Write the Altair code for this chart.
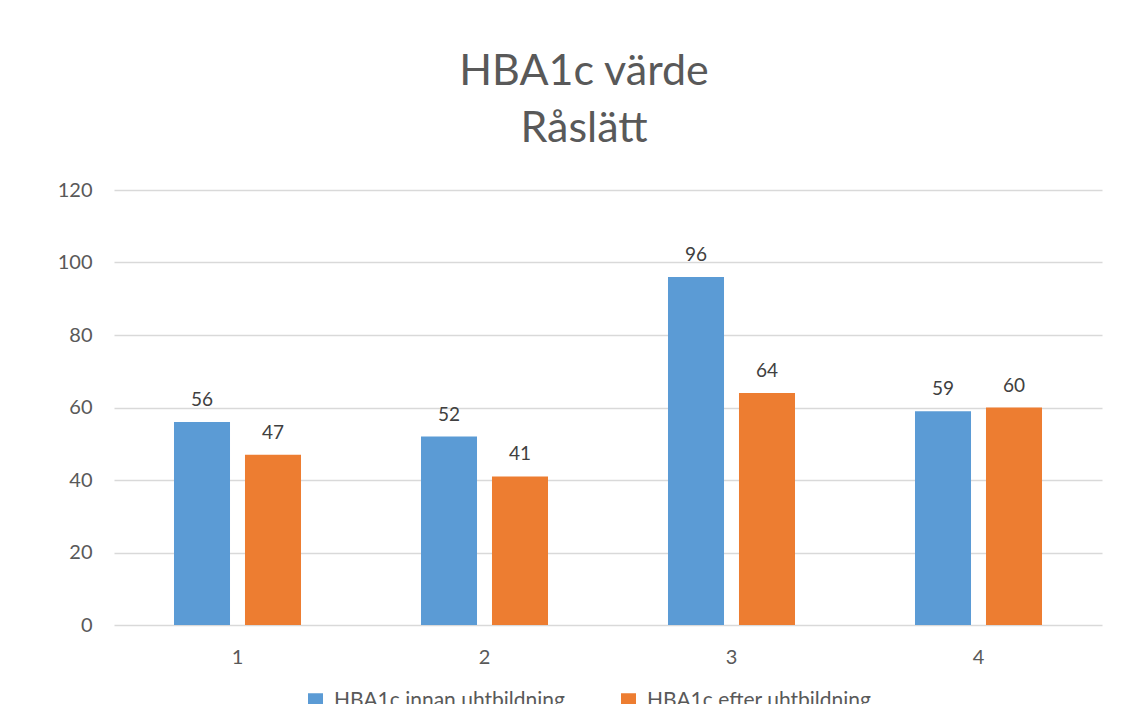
import altair as alt
import pandas as pd

categories = ["1", "2", "3", "4"]
series = ["HBA1c innan uhtbildning", "HBA1c efter uhtbildning"]
before = [56, 52, 96, 59]
after = [47, 41, 64, 60]

rows = []
for c, b, a in zip(categories, before, after):
    rows.append({"cat": c, "series": series[0], "value": b})
    rows.append({"cat": c, "series": series[1], "value": a})
df = pd.DataFrame(rows)

FONT = "Lato"

x = alt.X("cat:N", sort=categories, title=None,
          scale=alt.Scale(paddingInner=0, paddingOuter=0),
          axis=alt.Axis(labelAngle=0, labelFontSize=20, labelColor="#595959",
                        labelFont=FONT, ticks=False, domain=False, labelPadding=22))
xo = alt.XOffset("series:N", sort=series,
                 scale=alt.Scale(paddingInner=0.211, paddingOuter=0.845))
y = alt.Y("value:Q", title=None,
          scale=alt.Scale(domain=[0, 120]),
          axis=alt.Axis(values=[0, 20, 40, 60, 80, 100, 120], labelFontSize=20,
                        labelColor="#595959", labelFont=FONT, ticks=False,
                        domain=False, labelPadding=22, gridColor="#d9d9d9",
                        gridWidth=1.3))
color = alt.Color("series:N", sort=series,
                  scale=alt.Scale(domain=series, range=["#5B9BD5", "#ED7D31"]),
                  legend=alt.Legend(title=None, orient="none", legendX=191, legendY=500,
                                    direction="horizontal", symbolType="square",
                                    symbolSize=225, symbolStrokeWidth=0,
                                    labelFontSize=21, labelFont=FONT, labelLimit=0,
                                    labelColor="#595959", columnPadding=53,
                                    labelOffset=8))

bars = alt.Chart(df).mark_bar().encode(x=x, xOffset=xo, y=y, color=color)
labels = alt.Chart(df).mark_text(fontSize=19, font=FONT, color="#404040",
                                 baseline="alphabetic", dy=-16).encode(
    x=x, xOffset=xo, y=y, text=alt.Text("value:Q"))

chart = alt.layer(bars, labels).properties(
    width=988, height=435,
    padding={"left": 106, "top": 182, "right": 22, "bottom": 79},
    autosize=alt.AutoSizeParams(type="none"),
    title=alt.Title(["HBA1c värde", "Råslätt"], fontSize=43, font=FONT,
                    fontWeight="normal", color="#595959", lineHeight=57,
                    anchor="middle", dx=-24, offset=29),
).configure_view(stroke=None)

chart.save("out.html", embed_options={"renderer": "svg", "actions": False})
